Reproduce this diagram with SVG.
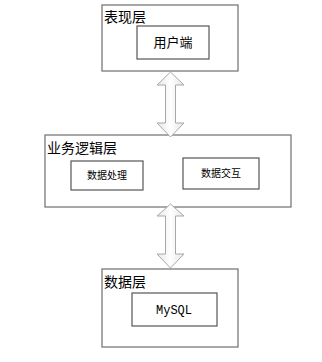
<svg xmlns="http://www.w3.org/2000/svg" width="322" height="362" viewBox="0 0 322 362">
<defs>
<linearGradient id="ag" x1="0" y1="0" x2="1" y2="0">
<stop offset="0" stop-color="#e6e6e6"/>
<stop offset="0.5" stop-color="#ffffff"/>
<stop offset="1" stop-color="#e6e6e6"/>
</linearGradient>
</defs>
<style>
.outer{fill:#fff;stroke:#6e6e6e;stroke-width:1.2}
.inner{fill:#fff;stroke:#555;stroke-width:1.2}
.lbl{font-family:"Noto Sans CJK SC","Liberation Sans",sans-serif;font-size:14px;fill:#000}
.txt{font-family:"Noto Sans CJK SC","Liberation Sans",sans-serif;font-size:13px;fill:#000;text-anchor:middle}
.sm{font-family:"Noto Sans CJK SC","Liberation Sans",sans-serif;font-size:10px;fill:#000;text-anchor:middle}
.mono{font-family:"Liberation Mono","DejaVu Sans Mono",monospace;font-size:12px;fill:#000;text-anchor:middle}
.arr{fill:url(#ag);stroke:#a8a8a8;stroke-width:1}
</style>
<g id="presentation">
<rect class="outer" x="102" y="5" width="136" height="66"/>
<text class="lbl" x="104" y="22">表现层</text>
</g>
<g id="client">
<rect class="inner" x="137" y="26" width="72" height="33"/>
<text class="txt" x="173" y="47">用户端</text>
</g>
<g id="business">
<rect class="outer" x="45" y="135" width="246" height="72"/>
<text class="lbl" x="47" y="153">业务逻辑层</text>
</g>
<g id="dataproc">
<rect class="inner" x="71" y="161" width="72" height="29"/>
<text class="sm" x="107" y="179">数据处理</text>
</g>
<g id="datainteract">
<rect class="inner" x="183" y="158" width="76" height="31"/>
<text class="sm" x="221" y="177">数据交互</text>
</g>
<g id="data">
<rect class="outer" x="102" y="269" width="136" height="78"/>
<text class="lbl" x="104" y="287">数据层</text>
</g>
<g id="mysql">
<rect class="inner" x="132" y="293" width="85" height="33"/>
<text class="mono" x="174" y="314">MySQL</text>
</g>
<g id="connectors">
<path class="arr" d="M170.5,72 L184,85 L175.5,85 L175.5,123 L184,123 L170.5,137 L157,123 L165.5,123 L165.5,85 L157,85 Z"/>
<path class="arr" d="M170.5,204 L184,216 L175.5,216 L175.5,254 L184,254 L170.5,268 L157,254 L165.5,254 L165.5,216 L157,216 Z"/>
</g>
</svg>
